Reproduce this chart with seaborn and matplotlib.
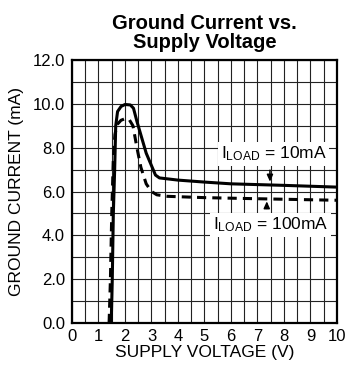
import seaborn as sns
import matplotlib.pyplot as plt
import pandas as pd
from matplotlib.ticker import MultipleLocator

# curve values (V, mA)
v_10ma = [1.48, 1.52, 1.56, 1.61, 1.65, 1.72, 1.85, 2.0, 2.2, 2.32, 2.45, 2.8,
          3.15, 3.3, 4.0, 5.0, 6.0, 8.0, 10.0]
i_10ma = [0.0, 2.0, 5.0, 7.0, 9.0, 9.65, 9.88, 9.97, 9.95, 9.8, 9.2, 7.75,
          6.75, 6.62, 6.52, 6.43, 6.35, 6.28, 6.2]
v_100ma = [1.40, 1.45, 1.50, 1.56, 1.62, 1.7, 1.85, 2.0, 2.15, 2.3, 2.45, 2.6,
           2.8, 3.0, 3.2, 3.6, 5.0, 7.0, 10.0]
i_100ma = [0.0, 2.0, 5.0, 7.5, 8.6, 9.05, 9.25, 9.32, 9.3, 9.0, 8.0, 7.1,
           6.35, 6.0, 5.85, 5.78, 5.72, 5.67, 5.6]

y_ticks = [0, 2, 4, 6, 8, 10, 12]
x_ticks = list(range(0, 11))

df10 = pd.DataFrame({"v": v_10ma, "i": i_10ma})
df100 = pd.DataFrame({"v": v_100ma, "i": i_100ma})

sns.set_style("white")
plt.rcParams["font.family"] = ["Liberation Sans", "DejaVu Sans"]
plt.rcParams["mathtext.fontset"] = "custom"
plt.rcParams["mathtext.rm"] = "Liberation Sans"
plt.rcParams["text.color"] = "black"
plt.rcParams["axes.labelcolor"] = "black"

fig = plt.figure(figsize=(3.49, 3.67), dpi=100)
ax = fig.add_axes([0.2063, 0.1199, 0.7593, 0.7166])

sns.lineplot(data=df10, x="v", y="i", ax=ax, color="black", lw=2.2, sort=False, zorder=3)
sns.lineplot(data=df100, x="v", y="i", ax=ax, color="black", lw=2.2, sort=False,
             dashes=False, zorder=3)
ax.lines[-1].set_dashes((3, 2))

ax.set_xlim(0, 10)
ax.set_ylim(0, 12)
ax.set_xticks(x_ticks)
ax.set_yticks(y_ticks)
ax.set_yticklabels([f"{t:.1f}" for t in y_ticks])
ax.xaxis.set_minor_locator(MultipleLocator(0.5))
ax.yaxis.set_minor_locator(MultipleLocator(1))
ax.grid(which="both", color="#222222", lw=0.8)
ax.tick_params(which="both", length=0, labelsize=12, colors="black")
ax.tick_params(axis="y", pad=5)
ax.tick_params(axis="x", pad=4)
for s in ax.spines.values():
    s.set_linewidth(1.6)
    s.set_color("black")

ax.set_xlabel("SUPPLY VOLTAGE (V)", fontsize=12.5, labelpad=1)
ax.set_ylabel("GROUND CURRENT (mA)", fontsize=12.5, labelpad=6)
ax.set_title("Ground Current vs.\nSupply Voltage", fontsize=14.5, fontweight="bold",
             linespacing=0.95, pad=9)

box = dict(facecolor="white", edgecolor="none", pad=2)
ax.text(7.6, 7.72, r"$\mathregular{I_{LOAD}}$ = 10mA", ha="center", va="center",
        fontsize=12.5, bbox=box, zorder=4)
ax.text(7.48, 4.47, r"$\mathregular{I_{LOAD}}$ = 100mA", ha="center", va="center",
        fontsize=12.5, bbox=box, zorder=4)

arrow = dict(arrowstyle="-|>,head_length=0.4,head_width=0.18", color="black", lw=1.1)
ax.annotate("", xy=(7.47, 6.32), xytext=(7.47, 7.1), arrowprops=arrow, zorder=5)
ax.annotate("", xy=(7.35, 5.68), xytext=(7.35, 5.1), arrowprops=arrow, zorder=5)

fig.savefig("out.png", dpi=100)
